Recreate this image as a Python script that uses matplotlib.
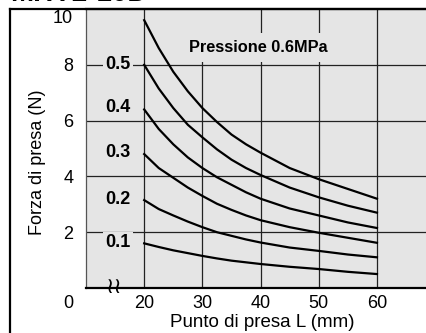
import matplotlib
matplotlib.use("Agg")
import matplotlib.pyplot as plt
from matplotlib.lines import Line2D
from matplotlib.transforms import blended_transform_factory

plt.rcParams["font.family"] = ["Liberation Sans", "DejaVu Sans"]

# grip point L (mm)
L = [20, 22.5, 25, 27.5, 30, 32.5, 35, 37.5, 40, 45, 50, 55, 60]

# grip force (N) per pressure (MPa)
pressures = ["0.6", "0.5", "0.4", "0.3", "0.2", "0.1"]
force_06 = [9.6, 8.6, 7.75, 7.05, 6.45, 5.95, 5.5, 5.15, 4.85, 4.3, 3.9, 3.55, 3.2]
force_05 = [8.0, 7.15, 6.45, 5.85, 5.4, 4.97, 4.6, 4.3, 4.05, 3.6, 3.25, 2.95, 2.7]
force_04 = [6.4, 5.7, 5.15, 4.68, 4.3, 3.97, 3.7, 3.43, 3.2, 2.85, 2.6, 2.35, 2.15]
force_03 = [4.8, 4.3, 3.95, 3.6, 3.3, 3.02, 2.8, 2.6, 2.43, 2.18, 1.98, 1.8, 1.62]
force_02 = [3.15, 2.83, 2.6, 2.38, 2.18, 2.0, 1.87, 1.74, 1.63, 1.45, 1.33, 1.2, 1.1]
force_01 = [1.6, 1.47, 1.35, 1.25, 1.15, 1.06, 0.98, 0.92, 0.86, 0.76, 0.68, 0.58, 0.5]
forces = [force_06, force_05, force_04, force_03, force_02, force_01]

# where the pressure labels sit (x, y in data units)
label_x = 15.5
label_y = [8.0, 6.48, 4.84, 3.18, 1.63]

x_ticks = [20, 30, 40, 50, 60]
y_ticks = [2, 4, 6, 8]

bg = "#e5e5e5"
fs = 13

fig = plt.figure(figsize=(4.27, 3.33), dpi=100)
ax = fig.add_axes([86 / 427, 45 / 333, 341 / 427, 279 / 333])
ax.set_facecolor(bg)
ax.set_xlim(10, 68.6)
ax.set_ylim(0, 10)

# grid, drawn by hand (the 30 line stops at the 8 line in the original)
for y in y_ticks:
    ax.axhline(y, color="#222222", lw=0.9, zorder=1)
for x in x_ticks:
    ax.axvline(x, ymax=0.81 if x == 30 else 1.0, color="#222222", lw=0.9, zorder=1)

for f in forces:
    ax.plot(L, f, color="black", lw=1.6, zorder=3)

for p, y in zip(pressures[1:], label_y):
    ax.text(label_x, y, p, ha="center", va="center", fontsize=fs, fontweight="bold",
            zorder=4, bbox=dict(facecolor=bg, edgecolor="none", pad=1.5))

ax.text(39.6, 8.62, "Pressione 0.6MPa", ha="center", va="center", fontsize=11.8,
        fontweight="bold", zorder=4,
        bbox=dict(facecolor=bg, edgecolor="none", pad=5))

ax.set_xticks(x_ticks)
ax.set_yticks(y_ticks)
ax.tick_params(length=0, labelsize=fs)
ax.tick_params(axis="x", pad=5)
ax.tick_params(axis="y", pad=9)

# "10" sits a little below the top edge, "0" on the x tick row
trans = blended_transform_factory(fig.transFigure, ax.transData)
ax.text(73 / 427, 9.67, "10", transform=trans, ha="right", va="center", fontsize=fs,
        clip_on=False)
ax.text(68 / 427, -0.55, "0", transform=trans, ha="center", va="center", fontsize=fs,
        clip_on=False)
ax.text(38 / 427, 4.5, "Forza di presa (N)", transform=trans, rotation=90,
        ha="center", va="center", fontsize=fs, clip_on=False)
ax.text(40.3, -1.25, "Punto di presa L (mm)", ha="center", va="center", fontsize=13.5,
        clip_on=False)

# axis break mark
ax.text(14.85, 0.05, "≀≀", ha="center", va="center", fontsize=16,
        family="DejaVu Sans", clip_on=False, zorder=5)

ax.spines["right"].set_visible(False)
ax.spines["top"].set_linewidth(1.6)
ax.spines["bottom"].set_linewidth(1.6)
ax.spines["left"].set_color("#555555")
ax.spines["left"].set_linewidth(0.9)

# outer frame
fx = 10 / 427
fy = 1 - 9 / 333
fig.add_artist(Line2D([fx, fx], [0, fy], transform=fig.transFigure, color="black", lw=1.6))
fig.add_artist(Line2D([fx, 1], [fy, fy], transform=fig.transFigure, color="black", lw=1.6))

# title, cut off by the top edge
fig.text(10 / 427, 1 - 1 / 333, "MHY2-10D", ha="left", va="baseline", fontsize=20,
         fontweight="bold")

fig.savefig("out.png", dpi=100)
